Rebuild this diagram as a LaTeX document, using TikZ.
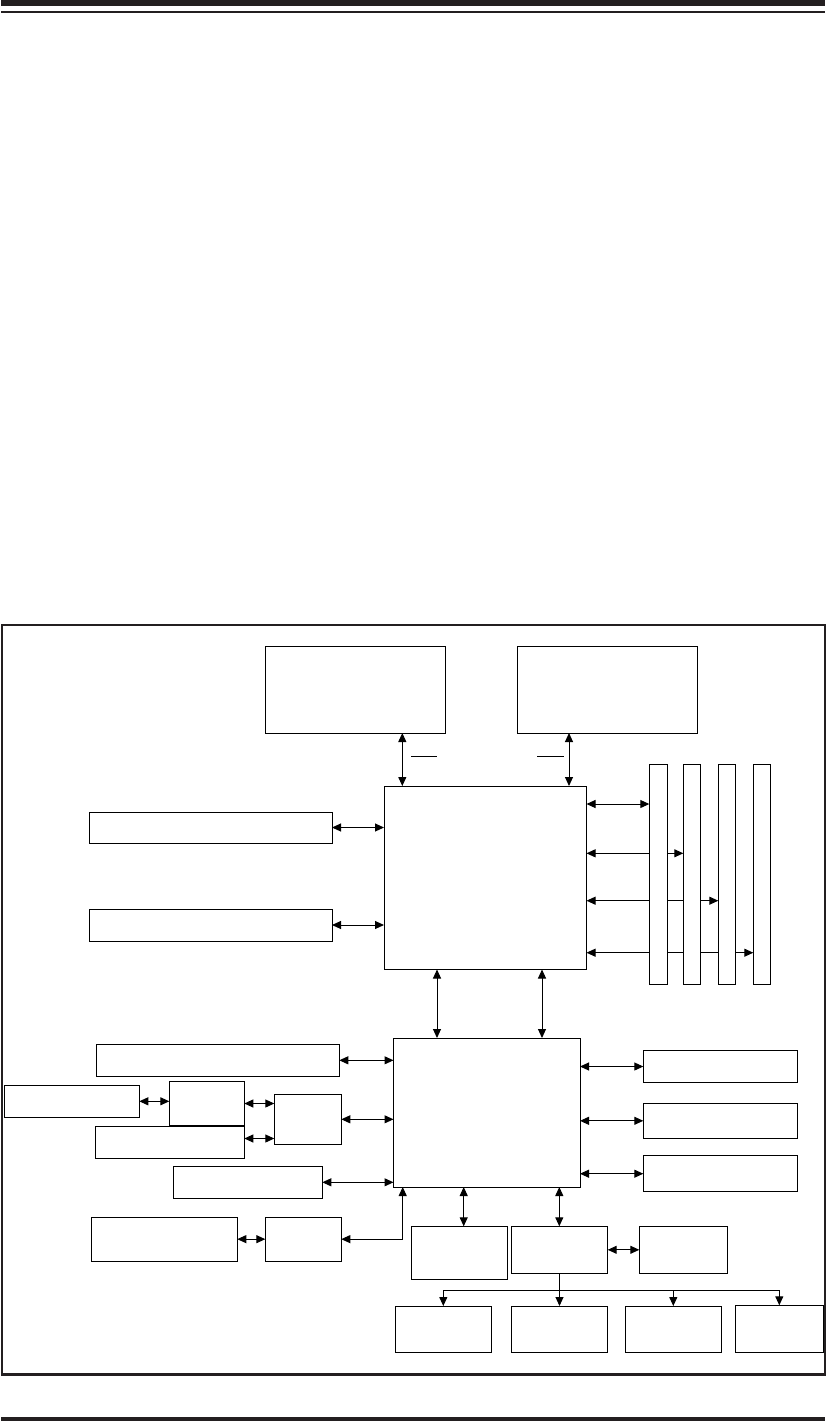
\documentclass[tikz,border=0pt]{standalone}
\usetikzlibrary{arrows.meta,fit,backgrounds}
\definecolor{ink}{HTML}{231F20}
\newcommand\mybox[3]{\node[box,fit={#2 #3}] (#1) {};}
\begin{document}
\begin{tikzpicture}[x=1pt,y=-1pt,
  box/.style={draw,line width=1pt,fill=white,rectangle,inner sep=0pt,outer sep=0pt},
  dbl/.style={line width=1pt,{Triangle[length=9pt,width=8pt]}-{Triangle[length=9pt,width=8pt]}},
  arr/.style={line width=1pt,-{Triangle[length=9pt,width=8pt]}},
  rule/.style={ink}]
\useasboundingbox (0,0) rectangle (826,1421);
% page rules
\fill[rule] (1,0) rectangle (825,5.7);
\draw[rule,line width=1.7pt] (1,11.9) -- (825,11.9);
\fill[rule] (1,1416.8) rectangle (825,1420.6);
% frame
\draw[ink,line width=1.2pt] (2,625) rectangle (825,1375);
\draw[ink,line width=3pt] (1.4,1374.5) -- (825.6,1374.5);
% boxes
\mybox{A}{(265,646)}{(445.5,733)}
\mybox{B}{(517.5,646)}{(697.5,733)}
\mybox{NB}{(384,786)}{(586.5,969.5)}
\mybox{C}{(89,812)}{(332,843)}
\mybox{D}{(89,909)}{(332,941)}
\mybox{S1}{(649.3,764.3)}{(667.3,984.3)}
\mybox{S2}{(683.3,764.3)}{(700.3,984.3)}
\mybox{S3}{(718.3,764.3)}{(735.3,984.3)}
\mybox{S4}{(753.3,764.3)}{(770.3,984.3)}
\mybox{SB}{(393.5,1038)}{(580,1187)}
\mybox{H}{(96.3,1044.3)}{(339.3,1076.3)}
\mybox{I}{(4.3,1085.3)}{(139.3,1117.3)}
\mybox{J}{(169.3,1081.3)}{(244.3,1125.7)}
\mybox{K}{(95.3,1126.7)}{(244.3,1158.3)}
\mybox{L}{(274.3,1094.3)}{(341.3,1144.3)}
\mybox{M}{(173.3,1166.3)}{(322.3,1198.3)}
\mybox{N}{(91.3,1217.3)}{(237.3,1261)}
\mybox{O}{(265.3,1217.3)}{(341.3,1261)}
\mybox{E}{(643.3,1050.7)}{(797.7,1082.3)}
\mybox{F}{(643.3,1103.3)}{(797.7,1138.3)}
\mybox{G}{(643.3,1155.7)}{(797.7,1191.7)}
\mybox{P}{(411.3,1226.3)}{(507.7,1279.3)}
\mybox{Q}{(511.3,1226.3)}{(607.7,1273.3)}
\mybox{R}{(639.3,1226.3)}{(727.3,1273.3)}
\mybox{T1}{(395.3,1306)}{(491.3,1352.3)}
\mybox{T2}{(511.3,1306)}{(607.7,1352.3)}
\mybox{T3}{(625.3,1306)}{(721.3,1352.3)}
\mybox{T4}{(735.3,1305.3)}{(823.3,1352.3)}
% helper coordinates
\coordinate (xa) at (402.3,0);
\coordinate (xb) at (569,0);
\coordinate (xc) at (437,0);
\coordinate (xd) at (542,0);
\coordinate (xe) at (402.7,0);
\coordinate (xf) at (463.7,0);
\coordinate (xg) at (559.3,0);
\coordinate (m1) at (0,804);
\coordinate (m2) at (0,853.3);
\coordinate (m3) at (0,900.7);
\coordinate (m4) at (0,952.7);
% connectors
\draw[dbl] (A.south -| xa) -- (NB.north -| xa);
\draw[dbl] (B.south -| xb) -- (NB.north -| xb);
\draw[line width=1pt] (411,756) -- (437,756);
\draw[line width=1pt] (537.3,756) -- (564,756);
\draw[dbl] (C.east) -- (C.east -| NB.west);
\draw[dbl] (D.east) -- (D.east -| NB.west);
\begin{pgfonlayer}{background}
\draw[dbl] (NB.east |- m1) -- (S1.west |- m1);
\draw[dbl] (NB.east |- m2) -- (S2.west |- m2);
\draw[dbl] (NB.east |- m3) -- (S3.west |- m3);
\draw[dbl] (NB.east |- m4) -- (S4.west |- m4);
\end{pgfonlayer}
\draw[dbl] (NB.south -| xc) -- (SB.north -| xc);
\draw[dbl] (NB.south -| xd) -- (SB.north -| xd);
\draw[dbl] (H.east) -- (H.east -| SB.west);
\draw[dbl] (I.east) -- (I.east -| J.west);
\draw[dbl] (J.east) -- (J.east -| L.west);
\draw[dbl] ([yshift=4pt]K.east) -- ([yshift=4pt]K.east -| L.west);
\draw[dbl] (L.east) -- (L.east -| SB.west);
\draw[dbl] (M.east) -- (M.east -| SB.west);
\draw[dbl] (N.east) -- (O.west);
\draw[dbl] (O.east) -| (SB.south -| xe);
\draw[dbl] (E.west -| SB.east) -- (E.west);
\draw[dbl] (F.west -| SB.east) -- (F.west);
\draw[dbl] (G.west -| SB.east) -- (G.west);
\draw[dbl] (SB.south -| xf) -- (P.north -| xf);
\draw[dbl] (SB.south -| xg) -- (Q.north -| xg);
\draw[dbl] (Q.east) -- (R.west);
\draw[arr] (Q.south) -- (T2.north);
\draw[arr] (Q.south) -- ++(0,17) -| (T1.north);
\draw[arr] (Q.south) -- ++(0,17) -| (T3.north);
\draw[arr] (Q.south) -- ++(0,17) -| (T4.north);
\end{tikzpicture}
\end{document}
